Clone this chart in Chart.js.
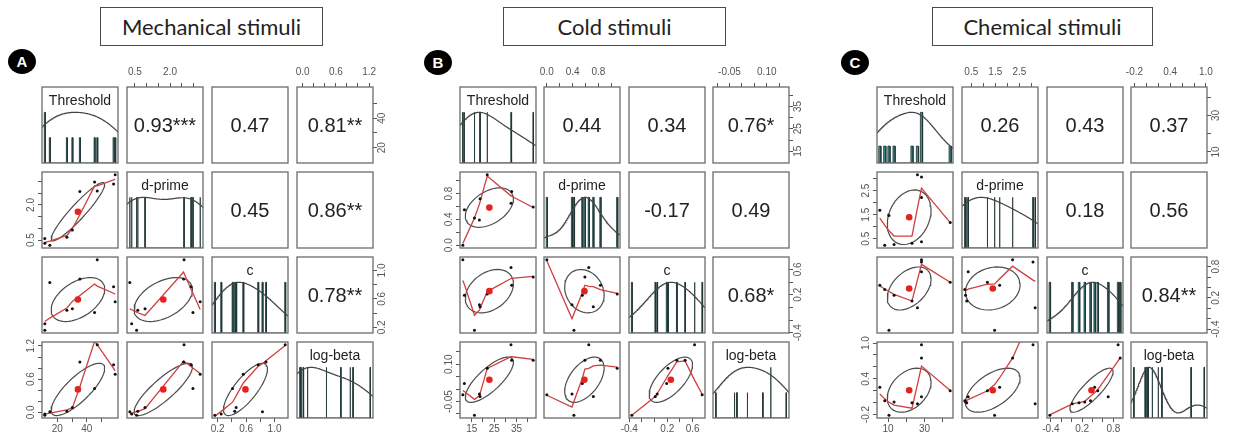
<!DOCTYPE html>
<html>
<head>
<meta charset="utf-8">
<script src="https://cdn.jsdelivr.net/npm/chart.js@4.4.1/dist/chart.umd.min.js"></script>
<style>
  html, body { margin: 0; padding: 0; background: #fff; }
  body { width: 1233px; height: 440px; position: relative; overflow: hidden; font-family: "Liberation Sans", Arial, sans-serif; }
  canvas { position: absolute; }
  .title { position: absolute; box-sizing: border-box; border: 1.5px solid #4a4a4a; font-family: Lato, "Open Sans", sans-serif; font-size: 22px; color: #222; display: flex; align-items: center; justify-content: center; }
  .badge { position: absolute; background: #000; color: #fff; border-radius: 50%; font-weight: bold; font-size: 15px; display: flex; align-items: center; justify-content: center; }
  .corr { position: absolute; display: flex; align-items: center; justify-content: center; font-size: 20px; color: #222; white-space: nowrap; }
  .diaglab { position: absolute; text-align: center; font-size: 14px; color: #222; line-height: 16px; white-space: nowrap; }
</style>
</head>
<body>
<script>
// ---------------- DATA ----------------
const variableNames = ['Threshold', 'd-prime', 'c', 'log-beta'];
const panelTitles = ['Mechanical stimuli', 'Cold stimuli', 'Chemical stimuli'];
const panelLetters = ['A', 'B', 'C'];

// Mechanical stimuli (panel A), one value per subject
const mechThreshold = [11.5, 11.5, 14.9, 26.5, 30.2, 35.3, 45.3, 47.1, 58.2, 59.3];
const mechDprime    = [0.57, 0.36, 0.28, 0.62, 0.93, 2.58, 2.98, 2.60, 2.90, 3.29];
const mechC         = [0.16, 0.25, 0.83, 0.44, 0.46, 0.88, 0.41, 1.15, 0.77, 0.56];
const mechLogBeta   = [-0.05, -0.03, 0.01, 0.02, 0.09, 0.91, 0.43, 1.22, 0.86, 0.69];
const mechCorr = ['0.93***', '0.47', '0.81**', '0.45', '0.86**', '0.78**'];

// Cold stimuli (panel B)
const coldThreshold = [11.0, 11.7, 16.2, 18.4, 18.7, 21.9, 32.5, 32.8, 42.4];
const coldDprime    = [0.00, 0.55, 0.42, 0.39, 0.72, 1.09, 0.65, 0.83, 0.59];
const coldC         = [0.75, 0.19, -0.36, 0.04, 0.01, 0.21, 0.63, 0.35, 0.48];
const coldLogBeta   = [-0.023, 0.022, -0.105, -0.020, -0.030, 0.084, 0.178, 0.116, 0.116];
const coldCorr = ['0.44', '0.34', '0.76*', '-0.17', '0.49', '0.68*'];

// Chemical stimuli (panel C)
const chemThreshold = [5.5, 8.2, 10.5, 13.3, 23.1, 26.1, 28.3, 28.3, 28.3, 44.0];
const chemDprime    = [1.68, 0.23, 1.47, 0.26, 0.31, 3.16, 0.37, 2.22, 3.07, 1.17];
const chemC         = [0.44, 0.36, -0.42, 0.25, 0.14, 0.01, 0.70, 0.93, 0.89, 0.50];
const chemLogBeta   = [0.26, 0.03, -0.21, 0.01, 0.00, -0.02, 0.10, 0.75, 0.97, 0.20];
const chemCorr = ['0.26', '0.43', '0.37', '0.18', '0.56', '0.84**'];

// Axis ticks (Threshold, d-prime, c, log-beta) and their printed labels
const mechTicks = [[20, 30, 40, 50], [0.5, 1, 1.5, 2, 2.5, 3], [0.2, 0.4, 0.6, 0.8, 1.0], [0, 0.2, 0.4, 0.6, 0.8, 1.0, 1.2]];
const mechTickLabels = [['20', '', '40', ''], ['0.5', '', '', '2.0', '', ''], ['0.2', '', '0.6', '', '1.0'], ['0.0', '', '', '0.6', '', '', '1.2']];
const coldTicks = [[15, 20, 25, 30, 35, 40], [0, 0.2, 0.4, 0.6, 0.8, 1.0], [-0.4, -0.2, 0, 0.2, 0.4, 0.6], [-0.10, -0.05, 0, 0.05, 0.10, 0.15]];
const coldTickLabels = [['15', '', '25', '', '35', ''], ['0.0', '', '0.4', '', '0.8', ''], ['-0.4', '', '', '0.2', '', '0.6'], ['', '-0.05', '', '', '0.10', '']];
const chemTicks = [[10, 20, 30, 40], [0.5, 1, 1.5, 2, 2.5, 3], [-0.4, -0.2, 0, 0.2, 0.4, 0.6, 0.8], [-0.2, 0, 0.2, 0.4, 0.6, 0.8, 1.0]];
const chemTickLabels = [['10', '', '30', ''], ['0.5', '', '1.5', '', '2.5', ''], ['-0.4', '', '', '0.2', '', '', '0.8'], ['-0.2', '', '', '0.4', '', '', '1.0']];

// ---------------- LAYOUT / STYLE ----------------
const CELL = 76, MARGIN = 32;
const rowY = [87, 172, 257, 342];
const layout = [
  { colX: [42, 127, 212, 297], titleBox: [100, 7, 223, 39], badge: [22, 61] },
  { colX: [460, 544, 629, 713], titleBox: [503, 7, 223, 39], badge: [438, 62] },
  { colX: [877, 962, 1047, 1131], titleBox: [932, 7, 221, 39], badge: [855, 62] }
];
const panels = [
  { vars: [mechThreshold, mechDprime, mechC, mechLogBeta], corr: mechCorr, ticks: mechTicks, labels: mechTickLabels },
  { vars: [coldThreshold, coldDprime, coldC, coldLogBeta], corr: coldCorr, ticks: coldTicks, labels: coldTickLabels },
  { vars: [chemThreshold, chemDprime, chemC, chemLogBeta], corr: chemCorr, ticks: chemTicks, labels: chemTickLabels }
];
const TICK_FONT = { size: 10, family: 'Liberation Sans' };
const TICK_COLOR = '#555';
const BAR_WIDTH_FACTOR = 1.6;

// ---------------- STATS (as done by psych::pairs.panels) ----------------
const mean = a => a.reduce((s, v) => s + v, 0) / a.length;
const sd = a => { const m = mean(a); return Math.sqrt(a.reduce((s, v) => s + (v - m) * (v - m), 0) / (a.length - 1)); };
function cor(a, b) {
  const ma = mean(a), mb = mean(b); let sab = 0, saa = 0, sbb = 0;
  for (let k = 0; k < a.length; k++) { sab += (a[k] - ma) * (b[k] - mb); saa += (a[k] - ma) ** 2; sbb += (b[k] - mb) ** 2; }
  return sab / Math.sqrt(saa * sbb);
}
function extRange(a) { const lo = Math.min(...a), hi = Math.max(...a), d = (hi - lo) * 0.04; return [lo - d, hi + d]; }

// R's lowess (clowess) port
function lowess(xIn, yIn, f = 2 / 3, nsteps = 3) {
  const order = xIn.map((_, k) => k).sort((p, q) => xIn[p] - xIn[q]);
  const x = order.map(k => xIn[k]), y = order.map(k => yIn[k]);
  const n = x.length;
  const delta = 0.01 * (x[n - 1] - x[0]);
  const ys = new Array(n).fill(0), rw = new Array(n).fill(1), res = new Array(n).fill(0), w = new Array(n).fill(0);
  const ns = Math.max(2, Math.min(n, Math.floor(f * n + 1e-7)));
  function lowest(xs, nleft, nright, userw) {
    const range = x[n - 1] - x[0];
    const h = Math.max(xs - x[nleft], x[nright] - xs);
    const h9 = 0.999 * h, h1 = 0.001 * h;
    let a = 0, j = nleft;
    while (j < n) {
      w[j] = 0;
      const r = Math.abs(x[j] - xs);
      if (r <= h9) {
        w[j] = r <= h1 ? 1 : Math.pow(1 - Math.pow(r / h, 3), 3);
        if (userw) w[j] *= rw[j];
        a += w[j];
      } else if (x[j] > xs) break;
      j++;
    }
    const nrt = j - 1;
    if (a <= 0) return null;
    for (j = nleft; j <= nrt; j++) w[j] /= a;
    if (h > 0) {
      a = 0;
      for (j = nleft; j <= nrt; j++) a += w[j] * x[j];
      let b = xs - a, c = 0;
      for (j = nleft; j <= nrt; j++) c += w[j] * (x[j] - a) * (x[j] - a);
      if (Math.sqrt(c) > 0.001 * range) {
        b /= c;
        for (j = nleft; j <= nrt; j++) w[j] *= (b * (x[j] - a) + 1);
      }
    }
    let v = 0;
    for (j = nleft; j <= nrt; j++) v += w[j] * y[j];
    return v;
  }
  for (let iter = 1; iter <= nsteps + 1; iter++) {
    let nleft = 0, nright = ns - 1, last = -1, i = 0;
    for (;;) {
      if (nright < n - 1) {
        const d1 = x[i] - x[nleft], d2 = x[nright + 1] - x[i];
        if (d1 > d2) { nleft++; nright++; continue; }
      }
      const v = lowest(x[i], nleft, nright, iter > 1);
      ys[i] = v === null ? y[i] : v;
      if (last < i - 1) {
        const denom = x[i] - x[last];
        for (let j = last + 1; j < i; j++) { const al = (x[j] - x[last]) / denom; ys[j] = al * ys[i] + (1 - al) * ys[last]; }
      }
      last = i;
      const cut = x[last] + delta;
      for (i = last + 1; i < n; i++) {
        if (x[i] > cut) break;
        if (x[i] === x[last]) { ys[i] = ys[last]; last = i; }
      }
      i = Math.max(last + 1, i - 1);
      if (last >= n - 1) break;
    }
    for (let k = 0; k < n; k++) res[k] = y[k] - ys[k];
    const sc = res.reduce((s, v) => s + Math.abs(v), 0) / n;
    if (iter > nsteps) break;
    const ar = res.map(Math.abs).sort((p, q) => p - q);
    const m1 = Math.floor(n / 2);
    const cmad = n % 2 === 0 ? 3 * (ar[m1] + ar[n - m1 - 1]) : 6 * ar[m1];
    if (cmad < 1e-7 * sc) break;
    const c9 = 0.999 * cmad, c1 = 0.001 * cmad;
    for (let k = 0; k < n; k++) {
      const r = Math.abs(res[k]);
      rw[k] = r <= c1 ? 1 : (r <= c9 ? Math.pow(1 - Math.pow(r / cmad, 2), 2) : 0);
    }
  }
  return x.map((xv, k) => ({ x: xv, y: ys[k] }));
}

// psych::draw.ellipse (1 SD correlation ellipse)
function ellipse(xv, yv) {
  const xm = mean(xv), ym = mean(yv), xs = sd(xv), ys = sd(yv), r = cor(xv, yv);
  const th = (r !== 0 ? Math.sign(r) : 1) / Math.SQRT2;
  const a = Math.sqrt(1 + r), b = Math.sqrt(1 - r);
  const pts = [];
  for (let k = 0; k <= 51; k++) {
    const t = k * 2 * Math.PI / 51, c = Math.cos(t), s = Math.sin(t);
    pts.push({ x: (c * a * th - s * b * th) * xs + xm, y: (c * a * th + s * b * th) * ys + ym });
  }
  return pts;
}

// density(x, bw = "nrd", adjust = 1.2), scaled to max 1
function densityCurve(v) {
  const n = v.length, s = [...v].sort((p, q) => p - q);
  const q = p => { const h = (n - 1) * p, l = Math.floor(h); return s[l] + (h - l) * (s[Math.min(l + 1, n - 1)] - s[l]); };
  const bw = 1.06 * Math.min(sd(v), (q(0.75) - q(0.25)) / 1.34) * Math.pow(n, -0.2) * 1.2;
  const from = s[0] - 3 * bw, to = s[n - 1] + 3 * bw, pts = [];
  for (let k = 0; k <= 300; k++) {
    const xx = from + (to - from) * k / 300; let yy = 0;
    for (const xi of v) { const z = (xx - xi) / bw; yy += Math.exp(-0.5 * z * z); }
    pts.push({ x: xx, y: yy });
  }
  const mx = Math.max(...pts.map(p => p.y));
  pts.forEach(p => { p.y /= mx; });
  return pts;
}

// psych histogram of unique values (bars of height count/max)
function histPolygon(v) {
  const counts = new Map();
  v.forEach(x => { const k = x.toFixed(6); counts.set(k, (counts.get(k) || 0) + 1); });
  const keys = [...counts.keys()].map(Number).sort((p, q) => p - q);
  const maxC = Math.max(...counts.values());
  let md = Infinity;
  for (let k = 1; k < keys.length; k++) md = Math.min(md, keys[k] - keys[k - 1]);
  const ib = md * (keys.length - 1) / 41 * BAR_WIDTH_FACTOR;
  const pts = [];
  keys.forEach(x => {
    const h = counts.get(x.toFixed(6)) / maxC;
    pts.push({ x: x - ib, y: 0 }, { x: x - ib, y: h }, { x: x + ib, y: h }, { x: x + ib, y: 0 });
  });
  return pts;
}

// ---------------- DRAWING ----------------
Chart.defaults.font.family = 'Liberation Sans';
Chart.defaults.animation = false;
Chart.defaults.events = [];

const framePlugin = {
  id: 'frame',
  afterDraw(chart) {
    const { ctx, chartArea: a } = chart;
    ctx.save();
    ctx.strokeStyle = '#6b6b6b';
    ctx.lineWidth = 1.3;
    ctx.strokeRect(a.left, a.top, a.right - a.left, a.bottom - a.top);
    ctx.restore();
  }
};

const measureCtx = document.createElement('canvas').getContext('2d');
measureCtx.font = TICK_FONT.size + 'px "Liberation Sans"';
const widest = labs => Math.max(...labs.map(t => measureCtx.measureText(t).width));

function axis(dir, position, show, range, ticks, labels) {
  const vertical = dir === 'y';
  let pad;
  if (!vertical) pad = position === 'top' ? 5 : 1;
  else pad = (position === 'left' ? 11 : 9) - 4 - widest(labels) / 2;
  return {
    type: 'linear', position, display: show, min: range[0], max: range[1],
    afterBuildTicks: s => { s.ticks = ticks.map(v => ({ value: v })); },
    afterFit: s => { if (show) { if (vertical) s.width = MARGIN; else s.height = MARGIN; } },
    ticks: {
      autoSkip: false, color: TICK_COLOR, font: TICK_FONT, padding: pad,
      minRotation: vertical ? 90 : 0, maxRotation: vertical ? 90 : 0,
      crossAlign: vertical ? 'center' : 'near',
      callback: v => { const k = ticks.findIndex(t => Math.abs(t - v) < 1e-9); return k >= 0 ? labels[k] : ''; }
    },
    grid: { drawOnChartArea: false, drawTicks: true, tickLength: 4, color: TICK_COLOR, lineWidth: 1 },
    border: { display: false }
  };
}

function addDiv(cls, x, y, w, h, text) {
  const d = document.createElement('div');
  d.className = cls;
  d.style.left = x + 'px'; d.style.top = y + 'px';
  if (w !== null) d.style.width = w + 'px';
  if (h !== null) d.style.height = h + 'px';
  d.textContent = text;
  document.body.appendChild(d);
  return d;
}

panels.forEach((P, p) => {
  const L = layout[p];
  addDiv('title', L.titleBox[0], L.titleBox[1], L.titleBox[2], L.titleBox[3], panelTitles[p]);
  addDiv('badge', L.badge[0] - 14, L.badge[1] - 12, 28, 25, panelLetters[p]);
  const ranges = P.vars.map(extRange);
  let corrIdx = 0;
  for (let i = 0; i < 4; i++) {
    for (let j = 0; j < 4; j++) {
      const cx = L.colX[j], cy = rowY[i];
      const showTop = i === 0 && j % 2 === 1;
      const showBottom = i === 3 && j % 2 === 0;
      const showLeft = j === 0 && i % 2 === 1;
      const showRight = j === 3 && i % 2 === 0;
      const canvas = document.createElement('canvas');
      canvas.width = CELL + 2 * MARGIN; canvas.height = CELL + 2 * MARGIN;
      canvas.style.left = (cx - MARGIN) + 'px'; canvas.style.top = (cy - MARGIN) + 'px';
      canvas.style.width = canvas.width + 'px'; canvas.style.height = canvas.height + 'px';
      document.body.appendChild(canvas);

      const xr = ranges[j];
      const yr = i === j ? [0, 1.5] : ranges[i];
      const datasets = [];
      if (i > j) {
        const xv = P.vars[j], yv = P.vars[i];
        datasets.push(
          { data: [{ x: mean(xv), y: mean(yv) }], pointRadius: 3.3, pointBackgroundColor: '#e3231f', pointBorderWidth: 0, showLine: false },
          { data: xv.map((v, k) => ({ x: v, y: yv[k] })), pointRadius: 1.5, pointBackgroundColor: '#111', pointBorderWidth: 0, showLine: false },
          { type: 'line', data: lowess(xv, yv), borderColor: '#cf3f3f', borderWidth: 1.3, pointRadius: 0, tension: 0, fill: false },
          { type: 'line', data: ellipse(xv, yv), borderColor: '#4d4d4d', borderWidth: 1.2, pointRadius: 0, tension: 0, fill: false }
        );
      } else if (i === j) {
        const v = P.vars[i];
        datasets.push(
          { type: 'line', data: densityCurve(v), borderColor: '#444', borderWidth: 1.2, pointRadius: 0, tension: 0, fill: false },
          { type: 'line', data: histPolygon(v), borderColor: '#1f3333', borderWidth: 0.8, backgroundColor: '#3a8f8f', pointRadius: 0, tension: 0, fill: 'origin' }
        );
      }
      new Chart(canvas, {
        type: 'scatter',
        data: { datasets },
        options: {
          responsive: false, animation: false, events: [],
          layout: { padding: { left: showLeft ? 0 : MARGIN, right: showRight ? 0 : MARGIN, top: showTop ? 0 : MARGIN, bottom: showBottom ? 0 : MARGIN } },
          plugins: { legend: { display: false }, tooltip: { enabled: false } },
          scales: {
            x: axis('x', showTop ? 'top' : 'bottom', showTop || showBottom, xr, P.ticks[j], P.labels[j]),
            y: axis('y', showRight ? 'right' : 'left', showLeft || showRight, yr, i === j ? [] : P.ticks[i], i === j ? [] : P.labels[i])
          }
        },
        plugins: [framePlugin]
      });

      if (i < j) addDiv('corr', cx, cy, CELL, CELL, P.corr[corrIdx++]);
      if (i === j) addDiv('diaglab', cx, cy + 5, CELL, null, variableNames[i]);
    }
  }
});
</script>
</body>
</html>
